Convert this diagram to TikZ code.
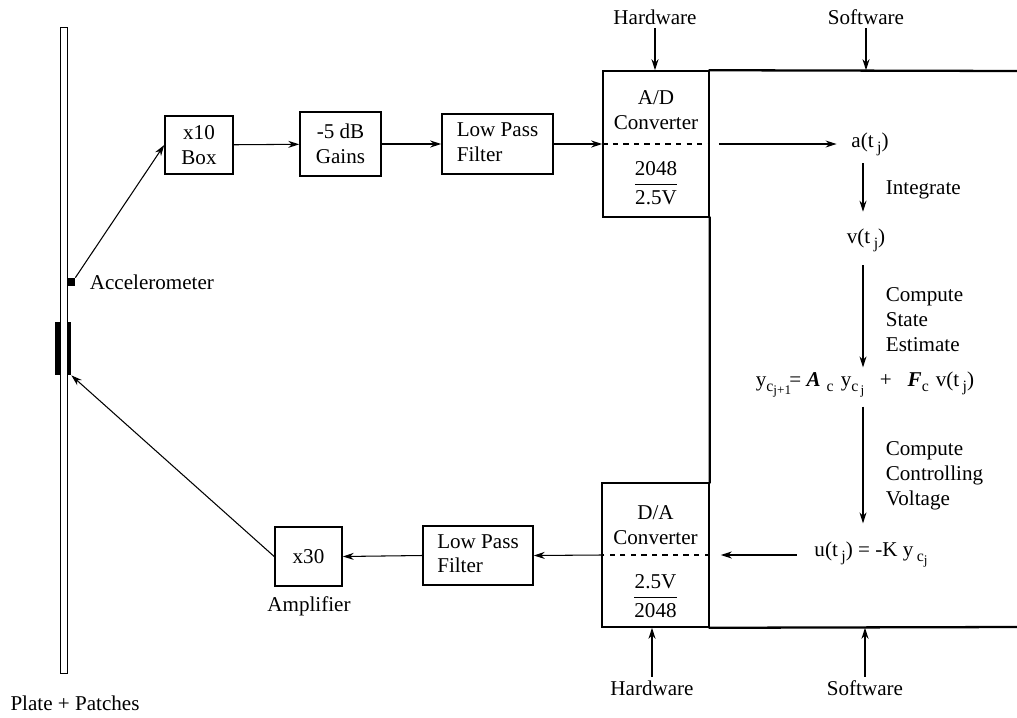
\documentclass[tikz,border=0pt]{standalone}
\usepackage{fontspec}
\setmainfont{Liberation Serif}
\usepackage{tikz}
\usetikzlibrary{positioning, arrows.meta, calc}
\newcommand{\lowsub}[1]{\raisebox{-0.5ex}{\fontsize{9}{10}\selectfont #1}}
\newcommand{\lowsubb}[1]{\raisebox{-0.45ex}{\fontsize{7.5}{8}\selectfont #1}}

\begin{document}
\begin{tikzpicture}[x=0.02cm, y=-0.02cm,
  font=\fontsize{12}{14.2}\selectfont,
  box/.style={draw, line width=0.9pt, inner sep=0pt, align=center},
  txt/.style={inner sep=2pt, align=left},
  arr/.style={-{Stealth[length=2.2mm, width=1.4mm]}, line width=0.6pt},
  frame/.style={line width=1.3pt, line cap=rect}]
  \useasboundingbox (0,0) rectangle (1017,717);
  % plate with patches and sensor
  \node[draw, line width=0.5pt, minimum width=0.14cm, minimum height=12.92cm, inner sep=0pt] (plate) at (63.5,350) {};
  \node[fill, minimum width=0.1cm, minimum height=1.06cm, inner sep=0pt] (patchL) at (57.5,348.5) {};
  \node[fill, minimum width=0.08cm, minimum height=1.06cm, inner sep=0pt] (patchR) at (69,348.5) {};
  \node[fill, minimum size=0.16cm, inner sep=0pt] (acc) at (71,282) {};
  \node[txt, anchor=west] (acclbl) at (86,282) {Accelerometer};
  \node[txt] (platelbl) at (75,703) {Plate + Patches};
  % measurement path
  \node[box, minimum width=1.36cm, minimum height=1.16cm] (x10) at (199,145) {x10\\Box};
  \node[box, minimum width=1.62cm, minimum height=1.28cm] (gain) at (340.5,144) {-5 dB\\Gains};
  \node[box, minimum width=2.22cm, minimum height=1.2cm] (lpfa) at (497.5,144) {\begin{tabular}{@{}l@{}}Low Pass\\Filter\end{tabular}};
  \node[box, minimum width=2.12cm, minimum height=2.92cm] (ad) at (656,144) {};
  \node[txt, align=center] (adlbl) at (656,110) {A/D\\Converter};
  \node[txt] (adfrac) at (656,183) {$\displaystyle\frac{\textrm{2048}}{\textrm{2.5V}}$};
  \draw[arr] (acc.north east) -- (x10.west);
  \draw[arr] (x10) -- (gain);
  \draw[arr] (gain) -- (lpfa);
  \draw[arr] (lpfa) -- (ad.west);
  \draw[dashed, line width=0.6pt] (ad.west) -- (ad.east);
  % control path
  \node[box, minimum width=2.14cm, minimum height=2.88cm] (da) at (655.5,555) {};
  \node[txt, align=center] (dalbl) at (655.5,525) {D/A\\Converter};
  \node[txt] (dafrac) at (655.5,596) {$\displaystyle\frac{\textrm{2.5V}}{\textrm{2048}}$};
  \node[box, minimum width=2.2cm, minimum height=1.18cm] (lpfb) at (478,555.5) {\begin{tabular}{@{}l@{}}Low Pass\\Filter\end{tabular}};
  \node[box, minimum width=1.34cm, minimum height=1.18cm] (x30) at (308.5,556.5) {x30};
  \node[txt] (amplbl) at (309,606) {Amplifier};
  \draw[dashed, line width=0.6pt] (da.east) -- (da.west);
  \draw[arr] (da.west) -- (lpfb.east);
  \draw[arr] (lpfb.west) -- (x30.east);
  \draw[arr] (x30.west) -- (patchR.south east);
  % software frame
  \draw[frame] (ad.north east) -- (1017,71);
  \draw[frame] (ad.south east) -- (da.north east);
  \draw[frame] (da.south east) -- (1017,627);
  % software steps
  \coordinate (col) at (863,0);
  \node[txt] (a) at (870,144) {a(t\,\lowsub{j})};
  \node[txt] (v) at (866,240) {v(t\,\lowsub{j})};
  \node[txt] (eq) at (865,385) {y\lowsub{c\lowsubb{j+1}}\kern-1pt= \textbf{\textit{A}}\,\lowsub{\,c}\,\,y\lowsub{c\lowsubb{\,j}}\ \ \ +\ \ \ \textbf{\textit{F}}\lowsub{c}\,\,v(t\,\lowsub{j})};
  \node[txt] (u) at (871,555) {u(t\,\lowsub{j}) = -K y\,\lowsub{c\lowsubb{j}}};
  \node[txt, anchor=west] (integ) at (882,190) {Integrate};
  \node[txt, anchor=west] (est) at (882,320) {Compute\\State\\Estimate};
  \node[txt, anchor=west] (ctrl) at (882,476) {Compute\\Controlling\\Voltage};
  \draw[arr, shorten <=0.18cm, shorten >=0.22cm] (ad.east) -- (a.west);
  \draw[arr, shorten <=0.08cm, shorten >=0.26cm] (a.south -| col) -- (v.north -| col);
  \draw[arr, shorten <=0.2cm, shorten >=0.02cm] (v.south -| col) -- (eq.north -| col);
  \draw[arr, shorten <=0.1cm, shorten >=0.3cm] (eq.south -| col) -- (u.north -| col);
  \draw[arr, shorten <=0.28cm, shorten >=0.22cm] (u.west) -- (da.east);
  % hardware / software marks
  \node[txt] (hwtop) at (655,17) {Hardware};
  \node[txt] (swtop) at (866,17) {Software};
  \node[txt] (hwbot) at (652,688) {Hardware};
  \node[txt] (swbot) at (865,688) {Software};
  \draw[arr] (hwtop.south) -- (hwtop.south |- ad.north);
  \draw[arr] (swtop.south) -- (swtop.south |- ad.north);
  \draw[arr] (hwbot.north) -- (hwbot.north |- da.south);
  \draw[arr] (swbot.north) -- (swbot.north |- da.south);
\end{tikzpicture}
\end{document}
